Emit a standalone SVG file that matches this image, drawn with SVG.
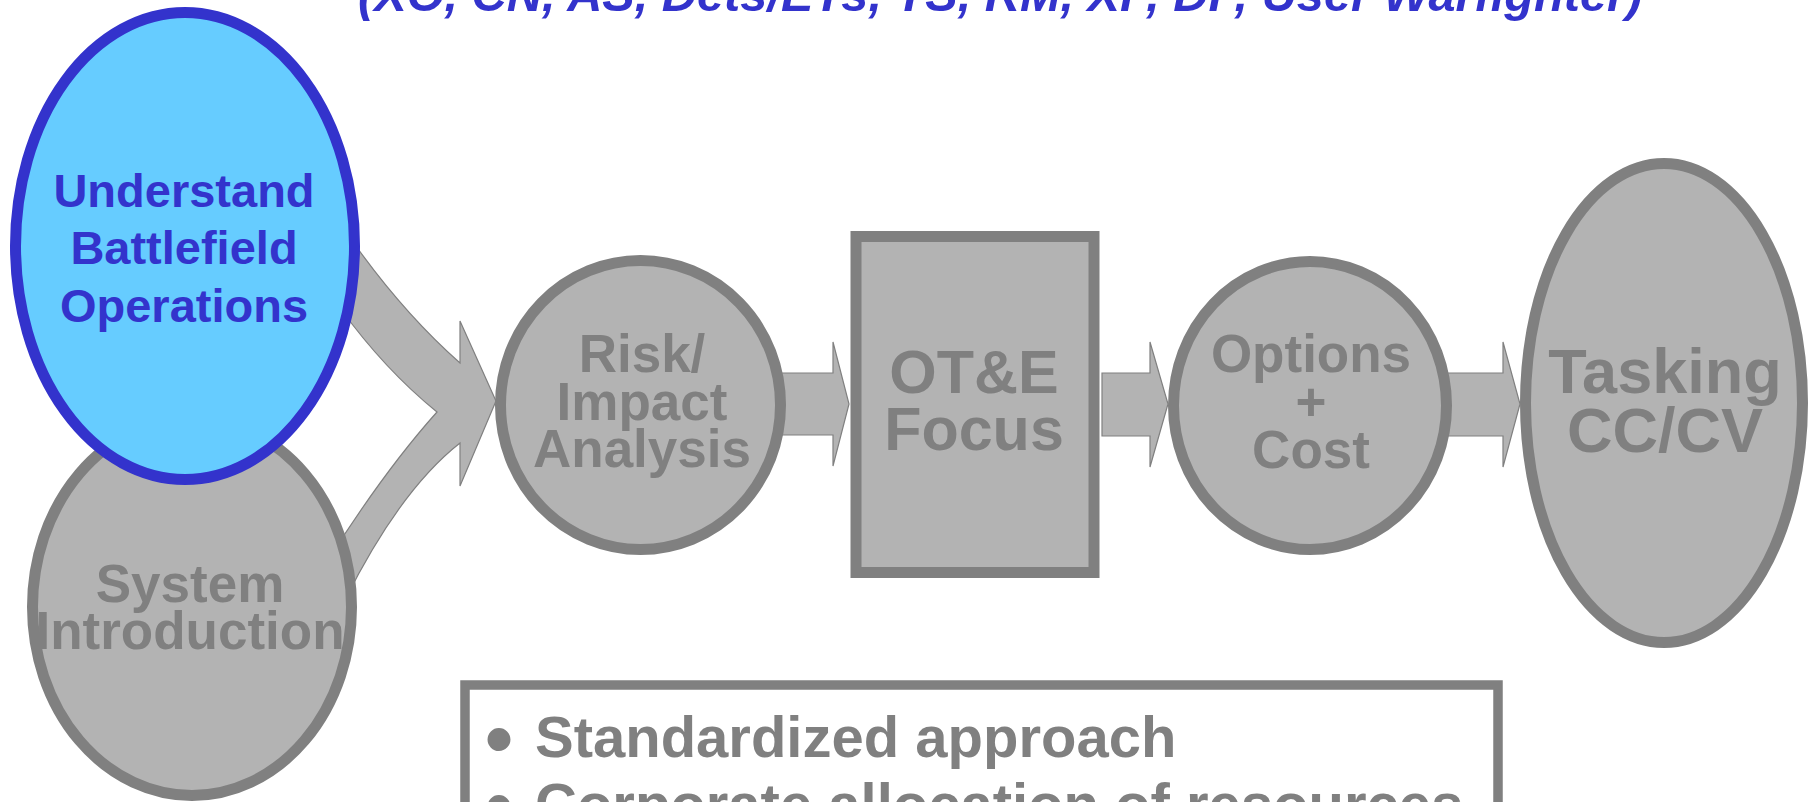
<svg xmlns="http://www.w3.org/2000/svg" width="1817" height="802" viewBox="0 0 1817 802">
<style>
.t{font-family:"Liberation Sans",Arial,sans-serif;font-weight:bold;text-anchor:middle}
.blue{fill:#3333CC}
.gray{fill:#808080}
.node{fill:#B3B3B3;stroke:#808080;stroke-width:11}
.conn{fill:#B3B3B3;stroke:#808080;stroke-width:1.2;stroke-linejoin:miter}
</style>
<rect width="1817" height="802" fill="#FFFFFF"/>
<text x="358" y="11" font-family="Liberation Sans, Arial, sans-serif" font-weight="bold" font-style="italic" font-size="48.7" fill="#3333CC">(XO, CN, AS, Dets/ETs, TS, RM, XP, DP, User Warfighter)</text>
<g id="connectors">
<path class="conn" d="M346,232 Q400,310 460,363 L460,321 L496,401 L460,486 L460,443 Q400,490 345,600 L328,560 Q385,470 437,412 Q385,370 340,308 Z"/>
<path class="conn" d="M770,373 L833,373 L833,342 L849,404 L833,466 L833,435 L770,435 Z"/>
<path class="conn" d="M1102,373 L1150,373 L1150,342 L1168,404 L1150,467 L1150,436 L1102,436 Z"/>
<path class="conn" d="M1445,373 L1503,373 L1503,342 L1520,404 L1503,467 L1503,436 L1445,436 Z"/>
</g>
<g id="system-introduction">
<ellipse class="node" cx="192" cy="607" rx="159.5" ry="188.5"/>
<text class="t gray" font-size="53" x="190" y="602">System</text>
<text class="t gray" font-size="53" x="190" y="649">Introduction</text>
</g>
<g id="understand-battlefield">
<ellipse cx="185" cy="246" rx="169.5" ry="233.5" fill="#66CCFF" stroke="#3333CC" stroke-width="11"/>
<text class="t blue" font-size="47" x="184" y="207">Understand</text>
<text class="t blue" font-size="47" x="184" y="264">Battlefield</text>
<text class="t blue" font-size="47" x="184" y="322">Operations</text>
</g>
<g id="risk-impact">
<ellipse class="node" cx="640.5" cy="405" rx="140" ry="144.5"/>
<text class="t gray" font-size="53" x="642" y="372">Risk/</text>
<text class="t gray" font-size="53" x="642" y="420">Impact</text>
<text class="t gray" font-size="53" x="642" y="467">Analysis</text>
</g>
<g id="ote-focus">
<rect class="node" x="856" y="236.5" width="238" height="336"/>
<text class="t gray" font-size="61" x="974" y="393">OT&amp;E</text>
<text class="t gray" font-size="61" x="974" y="450">Focus</text>
</g>
<g id="options-cost">
<ellipse class="node" cx="1310" cy="405.5" rx="136.5" ry="144"/>
<text class="t gray" font-size="53" x="1311" y="372">Options</text>
<text class="t gray" font-size="53" x="1311" y="420">+</text>
<text class="t gray" font-size="53" x="1311" y="468">Cost</text>
</g>
<g id="tasking">
<ellipse class="node" cx="1664" cy="403" rx="138.5" ry="239.5"/>
<text class="t gray" font-size="63" x="1665" y="393">Tasking</text>
<text class="t gray" font-size="63" x="1665" y="452">CC/CV</text>
</g>
<g id="benefits-box">
<rect x="465" y="685" width="1033" height="200" fill="#FFFFFF" stroke="#808080" stroke-width="9.5"/>
<text font-family="Liberation Sans, Arial, sans-serif" font-weight="bold" font-size="80" fill="#808080" x="485" y="766">•</text>
<text font-family="Liberation Sans, Arial, sans-serif" font-weight="bold" font-size="58" fill="#808080" x="535" y="757">Standardized approach</text>
<text font-family="Liberation Sans, Arial, sans-serif" font-weight="bold" font-size="80" fill="#808080" x="485" y="833">•</text>
<text font-family="Liberation Sans, Arial, sans-serif" font-weight="bold" font-size="58" fill="#808080" x="535" y="824">Corporate allocation of resources</text>
</g>
</svg>
